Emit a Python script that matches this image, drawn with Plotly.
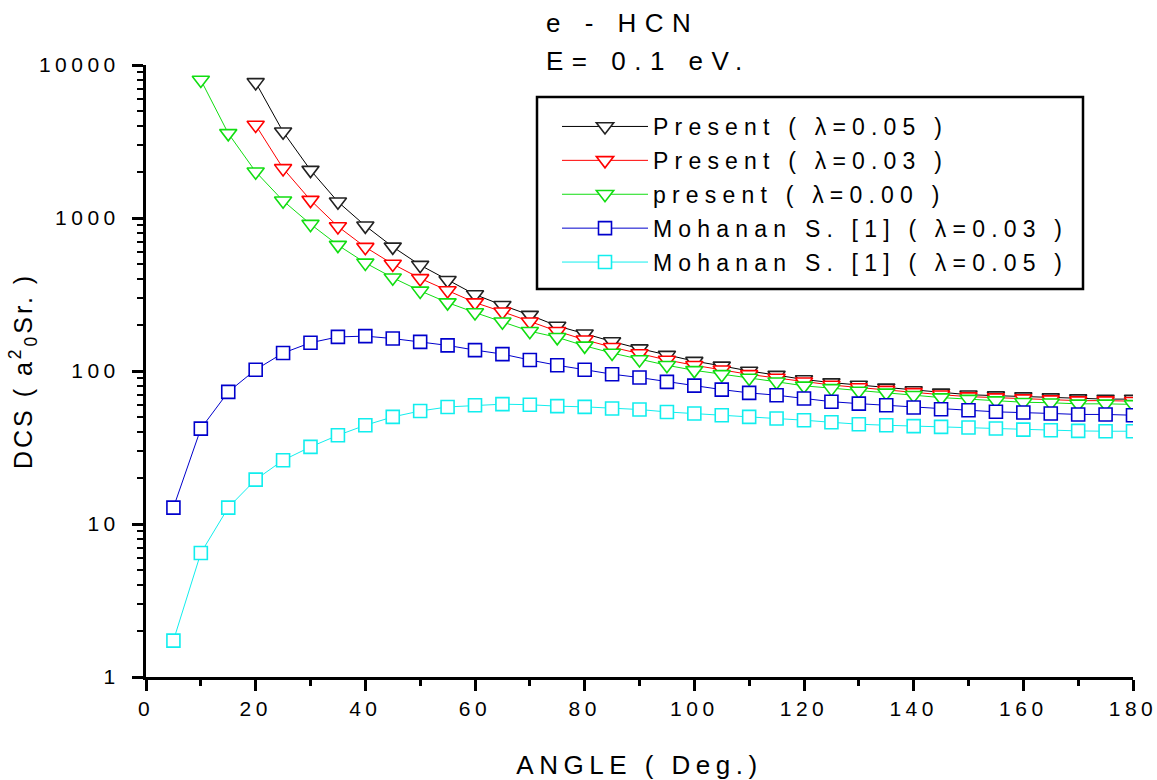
import plotly.graph_objects as go

# ---------------- data ----------------
angles_black = [20, 25, 30, 35, 40, 45, 50, 55, 60, 65, 70, 75, 80, 85, 90, 95, 100,
                105, 110, 115, 120, 125, 130, 135, 140, 145, 150, 155, 160, 165, 170, 175, 180]
dcs_present_005 = [7700, 3660, 2056, 1276, 889, 648, 492, 392, 316, 269, 232, 197, 175, 156,
                   140, 127, 116, 108, 100, 94, 88, 84, 81, 77.6, 74.5, 72, 70, 69, 68, 67,
                   66, 65.5, 65.5]

angles_red = [20, 25, 30, 35, 40, 45, 50, 55, 60, 65, 70, 75, 80, 85, 90, 95, 100,
              105, 110, 115, 120, 125, 130, 135, 140, 145, 150, 155, 160, 165, 170, 175, 180]
dcs_present_003 = [4050, 2110, 1309, 880, 645, 500, 403, 336, 280, 244, 210, 182, 160, 143,
                   130, 118, 109, 102, 95, 90, 85, 81, 78, 75, 72.5, 70, 68, 67, 66, 65,
                   64, 64, 63.5]

angles_green = [10, 15, 20, 25, 30, 35, 40, 45, 50, 55, 60, 65, 70, 75, 80, 85, 90, 95, 100,
                105, 110, 115, 120, 125, 130, 135, 140, 145, 150, 155, 160, 165, 170, 175, 180]
dcs_present_000 = [7980, 3575, 2005, 1296, 912, 665, 509, 407, 334, 280, 241, 210, 182, 166,
                   146, 131, 119, 109, 101, 95, 90, 85, 80, 77, 74, 72, 69.5, 67, 65.5, 64,
                   62.5, 62, 61, 61, 60.5]

angles_mohanan = [5, 10, 15, 20, 25, 30, 35, 40, 45, 50, 55, 60, 65, 70, 75, 80, 85, 90, 95,
                  100, 105, 110, 115, 120, 125, 130, 135, 140, 145, 150, 155, 160, 165, 170,
                  175, 180]
dcs_mohanan_003 = [12.8, 42, 73, 102, 131, 153, 167, 169, 163, 155, 147, 137, 129, 118, 109,
                   102, 95.3, 90.6, 84.9, 80.3, 75.6, 71.9, 69.5, 66.1, 63, 61.2, 59.7, 57.7,
                   56.2, 55.4, 54.1, 53.6, 52.8, 52, 52, 51.4]
dcs_mohanan_005 = [1.73, 6.46, 12.8, 19.5, 26.1, 31.9, 38, 44.2, 50.1, 54.8, 58.2, 59.7, 60.7,
                   60.2, 58.9, 58.3, 56.9, 56, 54, 52.8, 51.4, 50.1, 48.9, 47.7, 46.2, 44.9,
                   44.2, 43.6, 43.1, 42.7, 42.1, 41.4, 41, 40.6, 40.4, 40.4]

series_names = ["Present ( λ=0.05 )", "Present ( λ=0.03 )", "present ( λ=0.00 )",
                "Mohanan S. [1] ( λ=0.03 )", "Mohanan S. [1] ( λ=0.05 )"]

x_tick_vals = [0, 20, 40, 60, 80, 100, 120, 140, 160, 180]
x_tick_text = ["0", "20", "40", "60", "80", "100", "120", "140", "160", "180"]
y_tick_vals = [1, 10, 100, 1000, 10000]
y_tick_text = ["1", "10", "100", "1000", "10000"]

title_lines = ["e - HCN", "E= 0.1 eV."]
x_title = "ANGLE ( Deg.)"
y_title = "DCS ( a<sup>2</sup><sub>0</sub>Sr. )"

# ---------------- styling ----------------
FONT = "Liberation Sans, Arial, sans-serif"
W, H = 1157, 780
ML, MR, MT, MB = 146, 24, 65, 103
PW, PH = W - ML - MR, H - MT - MB


def spaced(s, ls=5):
    return f'<span style="letter-spacing:{ls}px">{s}</span>'


def px(xp):
    return (xp - ML) / PW


def py(yp):
    return (H - MB - yp) / PH


styles = [
    dict(color="#000000", mcolor="#222222", symbol="triangle-down", size=15),
    dict(color="#ff0000", mcolor="#ff0000", symbol="triangle-down", size=15),
    dict(color="#11dd11", mcolor="#11dd11", symbol="triangle-down", size=15),
    dict(color="#0000cc", mcolor="#0000cc", symbol="square", size=13),
    dict(color="#11eeee", mcolor="#11eeee", symbol="square", size=13),
]
xs = [angles_black, angles_red, angles_green, angles_mohanan, angles_mohanan]
ys = [dcs_present_005, dcs_present_003, dcs_present_000, dcs_mohanan_003, dcs_mohanan_005]

fig = go.Figure()
for i in range(5):
    st = styles[i]
    fig.add_trace(go.Scatter(
        x=xs[i], y=ys[i], mode="lines+markers",
        name=spaced(series_names[i], 6.2),
        legendgroup=f"g{i}",
        line=dict(color=st["color"], width=1),
        marker=dict(symbol=st["symbol"], size=st["size"], color="white",
                    line=dict(color=st["mcolor"], width=1.6)),
    ))

axis_common = dict(
    showline=True, linecolor="black", linewidth=3, mirror=False,
    ticks="outside", ticklen=11, tickwidth=3, tickcolor="black",
    showgrid=False, zeroline=False, automargin=False,
    ticklabeloverflow="allow",
    tickfont=dict(family=FONT, size=21, color="black"),
)

fig.update_xaxes(
    range=[0, 180], tickmode="array", tickvals=x_tick_vals,
    ticktext=[spaced(t, 4.5) for t in x_tick_text],
    minor=dict(ticks="outside", ticklen=6, tickwidth=3, tickcolor="black", dtick=10),
    title=dict(text=spaced(x_title, 5.5), font=dict(family=FONT, size=26, color="black"),
               standoff=37),
    **axis_common,
)
fig.update_yaxes(
    type="log", range=[0, 4], tickmode="array", tickvals=y_tick_vals,
    ticktext=[spaced(t, 4.5) for t in y_tick_text],
    ticklabelstandoff=8,
    minor=dict(ticks="outside", ticklen=6, tickwidth=2, tickcolor="black", dtick="D1"),
    title=dict(text=spaced(y_title, 3), font=dict(family=FONT, size=25, color="black"),
               standoff=0),
    **axis_common,
)

fig.add_annotation(text=spaced(title_lines[0], 8.5), xref="paper", yref="paper",
                   x=px(544), y=py(23), xanchor="left", yanchor="middle",
                   showarrow=False, font=dict(family=FONT, size=26, color="black"))
fig.add_annotation(text=spaced(title_lines[1], 8.5), xref="paper", yref="paper",
                   x=px(544), y=py(61), xanchor="left", yanchor="middle",
                   showarrow=False, font=dict(family=FONT, size=26, color="black"))

# legend frame
fig.add_shape(type="rect", xref="paper", yref="paper",
              x0=px(537), x1=px(1083), y0=py(289), y1=py(97),
              line=dict(color="black", width=2.5), fillcolor="white", layer="below")

fig.update_layout(
    width=W, height=H,
    margin=dict(l=ML, r=MR, t=MT, b=MB),
    paper_bgcolor="white", plot_bgcolor="white",
    font=dict(family=FONT, color="black"),
    showlegend=True,
    legend=dict(x=px(537), y=py(105), xanchor="left", yanchor="top",
                borderwidth=0, bgcolor="rgba(0,0,0,0)",
                font=dict(family=FONT, size=23, color="black"),
                tracegroupgap=1, itemwidth=86, indentation=20),
)

fig.write_html(
    "out.html",
    config={"displayModeBar": False},
    post_script="document.body.style.margin='0px';document.body.style.overflow='hidden';",
)
